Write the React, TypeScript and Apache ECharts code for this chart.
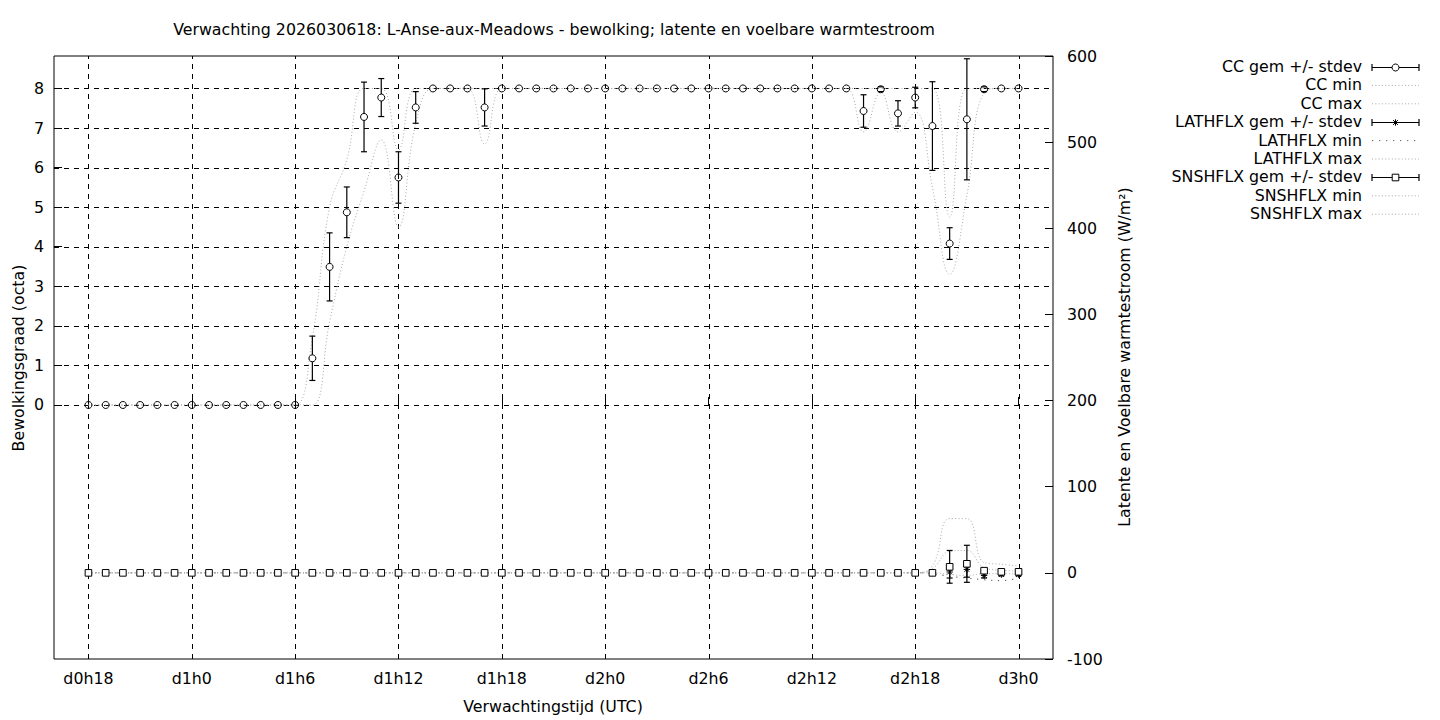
import { useEffect, useRef } from "react";
import * as echarts from "echarts";

// ---------- data ----------
const hours = [
  18, 19, 20, 21, 22, 23, 24, 25, 26, 27, 28, 29, 30, 31, 32, 33, 34, 35, 36, 37,
  38, 39, 40, 41, 42, 43, 44, 45, 46, 47, 48, 49, 50, 51, 52, 53, 54, 55, 56, 57,
  58, 59, 60, 61, 62, 63, 64, 65, 66, 67, 68, 69, 70, 71, 72,
];

const ccMean = [
  0, 0, 0, 0, 0, 0, 0, 0, 0, 0, 0, 0, 0, 1.18, 3.49, 4.87, 7.28, 7.77, 5.75, 7.52,
  8, 8, 8, 7.52, 8, 8, 8, 8, 8, 8, 8, 8, 8, 8, 8, 8, 8, 8, 8, 8,
  8, 8, 8, 8, 8, 7.43, 7.98, 7.37, 7.77, 7.05, 4.08, 7.22, 7.98, 8, 8,
];
const ccStd = [
  0, 0, 0, 0, 0, 0, 0, 0, 0, 0, 0, 0, 0, 0.56, 0.86, 0.64, 0.88, 0.48, 0.65, 0.4,
  0, 0, 0, 0.47, 0, 0, 0, 0, 0, 0, 0, 0, 0, 0, 0, 0, 0, 0, 0, 0,
  0, 0, 0, 0, 0, 0.41, 0.06, 0.32, 0.26, 1.12, 0.4, 1.53, 0.06, 0, 0,
];
const ccMin = [
  0, 0, 0, 0, 0, 0, 0, 0, 0, 0, 0, 0, 0, 0, 2.1, 4.0, 5.4, 6.7, 4.5, 7.1,
  8, 8, 8, 6.6, 8, 8, 8, 8, 8, 8, 8, 8, 8, 8, 8, 8, 8, 8, 8, 8,
  8, 8, 8, 8, 8, 6.9, 7.9, 6.9, 7.4, 5.5, 3.3, 5.3, 7.9, 8, 8,
];
const ccMax = [
  0, 0, 0, 0, 0, 0, 0, 0, 0, 0, 0, 0, 0, 1.7, 5.0, 6.2, 8, 8, 6.45, 8,
  8, 8, 8, 8, 8, 8, 8, 8, 8, 8, 8, 8, 8, 8, 8, 8, 8, 8, 8, 8,
  8, 8, 8, 8, 8, 8, 8, 8, 8, 8, 4.75, 8, 8, 8, 8,
];

const lhMean = [
  0, 0, 0, 0, 0, 0, 0, 0, 0, 0, 0, 0, 0, 0, 0, 0, 0, 0, 0, 0,
  0, 0, 0, 0, 0, 0, 0, 0, 0, 0, 0, 0, 0, 0, 0, 0, 0, 0, 0, 0,
  0, 0, 0, 0, 0, 0, 0, 0, 0, 0, 1, 4, -3, -2, -2,
];
const lhStd = [
  0, 0, 0, 0, 0, 0, 0, 0, 0, 0, 0, 0, 0, 0, 0, 0, 0, 0, 0, 0,
  0, 0, 0, 0, 0, 0, 0, 0, 0, 0, 0, 0, 0, 0, 0, 0, 0, 0, 0, 0,
  0, 0, 0, 0, 0, 0, 0, 0, 0, 0, 7, 9, 3, 1.5, 1.5,
];
const lhMin = [
  0, 0, 0, 0, 0, 0, 0, 0, 0, 0, 0, 0, 0, 0, 0, 0, 0, 0, 0, 0,
  0, 0, 0, 0, 0, 0, 0, 0, 0, 0, 0, 0, 0, 0, 0, 0, 0, 0, 0, 0,
  0, 0, 0, 0, 0, 0, 0, 0, 0, -1, -4, -6, -8, -9, -6,
];
const lhMax = [
  0, 0, 0, 0, 0, 0, 0, 0, 0, 0, 0, 0, 0, 0, 0, 0, 0, 0, 0, 0,
  0, 0, 0, 0, 0, 0, 0, 0, 0, 0, 0, 0, 0, 0, 0, 0, 0, 0, 0, 0,
  0, 0, 0, 0, 0, 0, 0, 0, 0, 5, 25, 26, 6, 3, 2,
];

const shMean = [
  0, 0, 0, 0, 0, 0, 0, 0, 0, 0, 0, 0, 0, 0, 0, 0, 0, 0, 0, 0,
  0, 0, 0, 0, 0, 0, 0, 0, 0, 0, 0, 0, 0, 0, 0, 0, 0, 0, 0, 0,
  0, 0, 0, 0, 0, 0, 0, 0, 0, 0, 7, 10.5, 2.5, 1.2, 1.2,
];
const shStd = [
  0, 0, 0, 0, 0, 0, 0, 0, 0, 0, 0, 0, 0, 0, 0, 0, 0, 0, 0, 0,
  0, 0, 0, 0, 0, 0, 0, 0, 0, 0, 0, 0, 0, 0, 0, 0, 0, 0, 0, 0,
  0, 0, 0, 0, 0, 0, 0, 0, 0, 0, 19, 21.5, 1, 0.5, 0.5,
];
const shMin = [
  0, 0, 0, 0, 0, 0, 0, 0, 0, 0, 0, 0, 0, 0, 0, 0, 0, 0, 0, 0,
  0, 0, 0, 0, 0, 0, 0, 0, 0, 0, 0, 0, 0, 0, 0, 0, 0, 0, 0, 0,
  0, 0, 0, 0, 0, 0, 0, 0, 0, 0, -2, -3, -1, -1, -1,
];
const shMax = [
  0, 0, 0, 0, 0, 0, 0, 0, 0, 0, 0, 0, 0, 0, 0, 0, 0, 0, 0, 0,
  0, 0, 0, 0, 0, 0, 0, 0, 0, 0, 0, 0, 0, 0, 0, 0, 0, 0, 0, 0,
  0, 0, 0, 0, 0, 0, 0, 0, 0, 8, 63, 63, 12, 10, 8,
];

const xTickHours = [18, 24, 30, 36, 42, 48, 54, 60, 66, 72];
const xTickLabels = ["d0h18", "d1h0", "d1h6", "d1h12", "d1h18", "d2h0", "d2h6", "d2h12", "d2h18", "d3h0"];
const ccTicks = [0, 1, 2, 3, 4, 5, 6, 7, 8];

const titleText = "Verwachting 2026030618: L-Anse-aux-Meadows - bewolking; latente en voelbare warmtestroom";
const xTitle = "Verwachtingstijd (UTC)";
const yTitle = "Bewolkingsgraad (octa)";
const y2Title = "Latente en Voelbare warmtestroom (W/m²)";
const legendLabels = [
  "CC gem +/- stdev",
  "CC min",
  "CC max",
  "LATHFLX gem +/- stdev",
  "LATHFLX min",
  "LATHFLX max",
  "SNSHFLX gem +/- stdev",
  "SNSHFLX min",
  "SNSHFLX max",
];
const legendKinds = ["circle", "dot", "dot", "star", "sparse", "dot", "square", "dot", "dot"];

// ---------- styling ----------
const FONT = "DejaVu Sans";
const FS = 15.8;
const GREY = "#a8a8a8";
const DOT = [1, 2.3];
const SPARSE = [1.3, 5.7];

type Marker = "circle" | "square" | "star";

function markerShapes(kind: Marker, cx: number, cy: number, fill: string) {
  if (kind === "circle") {
    return [{ type: "circle", shape: { cx, cy, r: 3.5 }, style: { stroke: "#000", fill, lineWidth: 1 } }];
  }
  if (kind === "square") {
    return [
      { type: "rect", shape: { x: cx - 3.3, y: cy - 3.3, width: 6.6, height: 6.6 }, style: { stroke: "#000", fill: "#fff", lineWidth: 1 } },
    ];
  }
  const s = 3.2;
  const st = { stroke: "#000", lineWidth: 1, fill: "none" };
  return [
    { type: "line", shape: { x1: cx - s, y1: cy, x2: cx + s, y2: cy }, style: st },
    { type: "line", shape: { x1: cx, y1: cy - s, x2: cx, y2: cy + s }, style: st },
    { type: "line", shape: { x1: cx - s * 0.75, y1: cy - s * 0.75, x2: cx + s * 0.75, y2: cy + s * 0.75 }, style: st },
    { type: "line", shape: { x1: cx - s * 0.75, y1: cy + s * 0.75, x2: cx + s * 0.75, y2: cy - s * 0.75 }, style: st },
  ];
}

function errRender(kind: Marker) {
  const gap = kind === "star" ? 0 : 3.5;
  return (_params: any, api: any) => {
    const x = api.value(0);
    const m = api.value(1);
    const s = api.value(2);
    const c = api.coord([x, m]);
    const cx = c[0];
    const cy = c[1];
    const st = { stroke: "#000", lineWidth: 1.2, fill: "none" };
    const children: any[] = [];
    if (s > 0) {
      const t = api.coord([x, m + s])[1];
      const b = api.coord([x, m - s])[1];
      if (cy - t > gap) children.push({ type: "line", shape: { x1: cx, y1: t, x2: cx, y2: cy - gap }, style: st });
      if (b - cy > gap) children.push({ type: "line", shape: { x1: cx, y1: cy + gap, x2: cx, y2: b }, style: st });
      children.push({ type: "line", shape: { x1: cx - 3, y1: t, x2: cx + 3, y2: t }, style: st });
      children.push({ type: "line", shape: { x1: cx - 3, y1: b, x2: cx + 3, y2: b }, style: st });
    }
    children.push(...markerShapes(kind, cx, cy, "none"));
    return { type: "group", children };
  };
}

function dotLine(values: number[], yAxisIndex: number, color: string, dash: number[]) {
  return {
    type: "line",
    yAxisIndex,
    data: hours.map((h, i) => [h, values[i]]),
    smooth: 0.45,
    symbol: "none",
    showSymbol: false,
    silent: true,
    z: 2,
    lineStyle: { color, width: 1, type: dash },
  };
}

function errSeries(mean: number[], std: number[], yAxisIndex: number, kind: Marker, z: number) {
  return {
    type: "custom",
    yAxisIndex,
    data: hours.map((h, i) => [h, mean[i], std[i]]),
    encode: { x: 0, y: 1 },
    renderItem: errRender(kind),
    silent: true,
    z,
  };
}

function buildOption() {
  const gridSeries = [
    {
      type: "custom",
      yAxisIndex: 0,
      data: xTickHours.map((h) => [h, 0]),
      encode: { x: 0, y: 1 },
      silent: true,
      z: 1,
      renderItem: (params: any, api: any) => {
        const cs = params.coordSys;
        const x = Math.round(api.coord([api.value(0), 0])[0]) + 0.5;
        return {
          type: "line",
          shape: { x1: x, y1: cs.y + cs.height, x2: x, y2: cs.y },
          style: { stroke: "#000", lineWidth: 1, lineDash: [5, 5], fill: "none" },
        };
      },
    },
    {
      type: "custom",
      yAxisIndex: 0,
      data: ccTicks.map((v) => [20, v]),
      encode: { x: 0, y: 1 },
      silent: true,
      z: 1,
      renderItem: (params: any, api: any) => {
        const cs = params.coordSys;
        const y = Math.round(api.coord([20, api.value(1)])[1]) + 0.5;
        return {
          type: "line",
          shape: { x1: cs.x, y1: y, x2: cs.x + cs.width, y2: y },
          style: { stroke: "#000", lineWidth: 1, lineDash: [5, 5], fill: "none" },
        };
      },
    },
  ];

  const legendX = 1362;
  const sampleL = 1372;
  const sampleR = 1419;
  const legendGraphics: any[] = [];
  legendLabels.forEach((lab, i) => {
    const y = 66.5 + i * 18.4;
    legendGraphics.push({
      type: "text",
      x: legendX,
      y,
      style: { text: lab, fontFamily: FONT, fontSize: FS, fill: "#000", align: "right", verticalAlign: "middle" },
    });
    const kind = legendKinds[i];
    if (kind === "dot" || kind === "sparse") {
      legendGraphics.push({
        type: "line",
        shape: { x1: sampleL, y1: y + 0.5, x2: sampleR, y2: y + 0.5 },
        style: { stroke: kind === "dot" ? GREY : "#666", lineWidth: 1, lineDash: kind === "dot" ? DOT : SPARSE },
      });
    } else {
      const st = { stroke: "#000", lineWidth: 1.2 };
      const yy = Math.round(y) + 0.5;
      legendGraphics.push({ type: "line", shape: { x1: sampleL, y1: yy, x2: sampleR, y2: yy }, style: st });
      legendGraphics.push({ type: "line", shape: { x1: sampleL, y1: yy - 3.5, x2: sampleL, y2: yy + 3.5 }, style: st });
      legendGraphics.push({ type: "line", shape: { x1: sampleR, y1: yy - 3.5, x2: sampleR, y2: yy + 3.5 }, style: st });
      markerShapes(kind as Marker, (sampleL + sampleR) / 2, yy, "#fff").forEach((g) => legendGraphics.push(g));
    }
  });

  return {
    animation: false,
    backgroundColor: "#fff",
    textStyle: { fontFamily: FONT },
    grid: {
      left: 54,
      top: 56,
      width: 999,
      height: 603,
      show: true,
      borderColor: "#000",
      borderWidth: 1,
      backgroundColor: "transparent",
    },
    xAxis: {
      type: "value",
      min: 16,
      max: 74,
      axisLine: { show: false },
      splitLine: { show: false },
      axisTick: { show: true, inside: true, length: 8, customValues: xTickHours, lineStyle: { color: "#000" } },
      axisLabel: {
        customValues: xTickHours,
        formatter: (v: number) => xTickLabels[xTickHours.indexOf(v)] ?? "",
        fontFamily: FONT,
        fontSize: FS,
        color: "#000",
        margin: 11,
      },
    },
    yAxis: [
      {
        type: "value",
        position: "left",
        min: -6.42,
        max: 8.82,
        axisLine: { show: false },
        splitLine: { show: false },
        axisTick: { show: true, inside: true, length: 8, customValues: ccTicks, lineStyle: { color: "#000" } },
        axisLabel: { customValues: ccTicks, fontFamily: FONT, fontSize: FS, color: "#000", margin: 10 },
      },
      {
        type: "value",
        position: "right",
        min: -100,
        max: 600,
        interval: 100,
        axisLine: { show: false },
        splitLine: { show: false },
        axisTick: { show: true, inside: true, length: 8, lineStyle: { color: "#000" } },
        axisLabel: { fontFamily: FONT, fontSize: FS, color: "#000", margin: 14 },
      },
    ],
    series: [
      ...gridSeries,
      dotLine(ccMin, 0, GREY, DOT),
      dotLine(ccMax, 0, GREY, DOT),
      errSeries(ccMean, ccStd, 0, "circle", 3),
      dotLine(lhMin, 1, "#555", SPARSE),
      dotLine(lhMax, 1, GREY, DOT),
      errSeries(lhMean, lhStd, 1, "star", 3),
      dotLine(shMin, 1, GREY, DOT),
      dotLine(shMax, 1, GREY, DOT),
      errSeries(shMean, shStd, 1, "square", 4),
    ],
    graphic: [
      {
        type: "text",
        x: 554,
        y: 29,
        style: { text: titleText, fontFamily: FONT, fontSize: FS, fill: "#000", align: "center", verticalAlign: "middle" },
      },
      {
        type: "text",
        x: 553,
        y: 706,
        style: { text: xTitle, fontFamily: FONT, fontSize: FS, fill: "#000", align: "center", verticalAlign: "middle" },
      },
      {
        type: "text",
        x: 18,
        y: 358,
        rotation: Math.PI / 2,
        style: { text: yTitle, fontFamily: FONT, fontSize: FS, fill: "#000", align: "center", verticalAlign: "middle" },
      },
      {
        type: "text",
        x: 1124,
        y: 357,
        rotation: Math.PI / 2,
        style: { text: y2Title, fontFamily: FONT, fontSize: FS, fill: "#000", align: "center", verticalAlign: "middle" },
      },
      ...legendGraphics,
    ],
  };
}

export default function App() {
  const ref = useRef<HTMLDivElement>(null);
  useEffect(() => {
    if (!ref.current) return;
    const chart = echarts.init(ref.current, null, { renderer: "svg" });
    chart.setOption(buildOption() as any);
    return () => chart.dispose();
  }, []);
  return (
    <div
      ref={ref}
      style={{ position: "fixed", left: 0, top: 0, width: 1440, height: 720, background: "#fff" }}
    />
  );
}
